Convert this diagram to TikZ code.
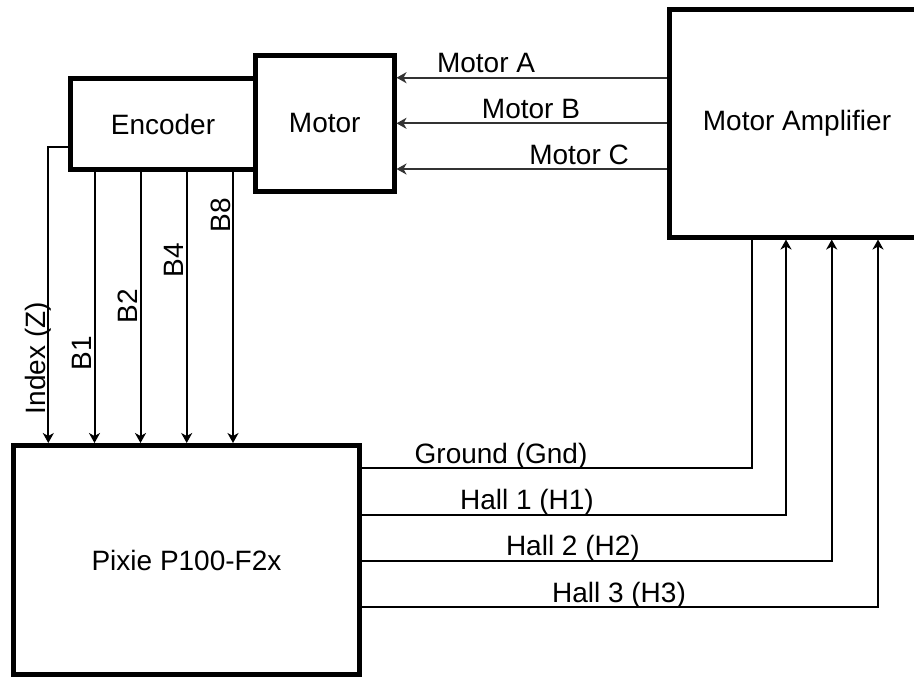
\documentclass[tikz,border=0pt]{standalone}
\usepackage{fontspec}
\setmainfont{Liberation Sans}
\usetikzlibrary{arrows.meta,positioning,calc}

\begin{document}
\begin{tikzpicture}[
  x=0.5pt,y=-0.5pt,
  >={Stealth[length=5pt,width=5.5pt,inset=1.5pt]},
  every node/.style={font=\fontsize{14}{16}\selectfont},
  block/.style={rectangle,draw,line width=2.5pt,fill=white,inner sep=0pt},
  sig/.style={line width=1pt},
  wire/.style={line width=0.9pt,draw=black!80},
  hlab/.style={anchor=base,yshift=2.5pt,text=black},
  vlab/.style={anchor=base,rotate=90,yshift=1.5pt}
]
\useasboundingbox (0,0) rectangle (914,677);
\clip (0,0) rectangle (914,677);
% blocks
\node[block,minimum width=92.25pt,minimum height=45.5pt] (enc) at (163,124) {Encoder};
\node[block,minimum width=69.25pt,minimum height=68.25pt] (mot) at (324.75,123.25) {Motor};
\node[block,minimum width=127.5pt,minimum height=113.75pt] (amp) at (797,123.25) {Motor Amplifier};
\node[block,minimum width=173pt,minimum height=114.5pt] (pix) at (186.5,560) {Pixie P100-F2x};
% wire positions
\coordinate (ma) at (0,77.7);
\coordinate (mb) at (0,123.3);
\coordinate (mc) at (0,169);
\coordinate (idx) at (48.3,146.5);
\coordinate (b1) at (94.5,0);
\coordinate (b2) at (140.5,0);
\coordinate (b4) at (186.7,0);
\coordinate (b8) at (233,0);
\coordinate (gnd) at (751.5,468);
\coordinate (h1) at (786,514.5);
\coordinate (h2) at (831.7,560.5);
\coordinate (h3) at (878,607);
% amplifier to motor
\draw[wire,->] (amp.west |- ma) -- node[hlab,pos=0.669]{Motor A} (mot.east |- ma);
\draw[wire,->] (amp.west |- mb) -- node[hlab,pos=0.503]{Motor B} (mot.east |- mb);
\draw[wire,->] (amp.west |- mc) -- node[hlab,pos=0.325]{Motor C} (mot.east |- mc);
% encoder to pixie
\draw[sig,->] (enc.west |- idx) -- (idx) -- node[vlab,pos=0.714]{Index (Z)} (idx |- pix.north);
\draw[sig,->] (b1 |- enc.south) -- node[vlab,pos=0.668]{B1} (b1 |- pix.north);
\draw[sig,->] (b2 |- enc.south) -- node[vlab,pos=0.494]{B2} (b2 |- pix.north);
\draw[sig,->] (b4 |- enc.south) -- node[vlab,pos=0.325]{B4} (b4 |- pix.north);
\draw[sig,->] (b8 |- enc.south) -- node[vlab,pos=0.159]{B8} (b8 |- pix.north);
% pixie to amplifier
\draw[sig] (pix.east |- gnd) -- node[hlab,pos=0.357]{Ground (Gnd)} (gnd) -- (gnd |- amp.south);
\draw[sig,->] (pix.east |- h1) -- node[hlab,pos=0.389]{Hall 1 (H1)} (h1) -- (h1 |- amp.south);
\draw[sig,->] (pix.east |- h2) -- node[hlab,pos=0.449]{Hall 2 (H2)} (h2) -- (h2 |- amp.south);
\draw[sig,->] (pix.east |- h3) -- node[hlab,pos=0.498]{Hall 3 (H3)} (h3) -- (h3 |- amp.south);
\end{tikzpicture}
\end{document}
